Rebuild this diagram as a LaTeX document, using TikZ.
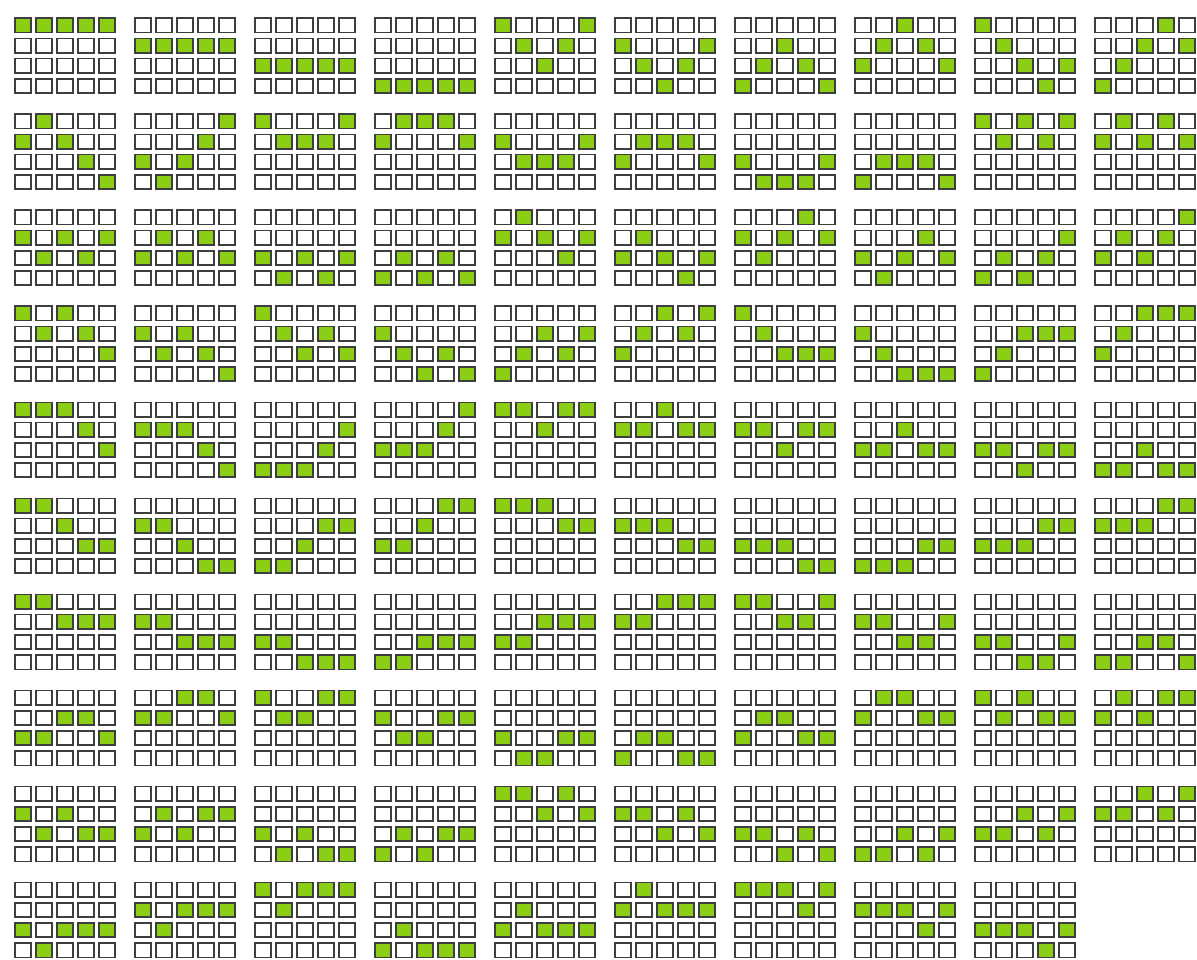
\documentclass[tikz,border=0pt]{standalone}
\definecolor{cellgreen}{RGB}{140,206,22}
\definecolor{celledge}{RGB}{62,62,62}
\newcount\gcellidx
\tikzset{
  celloff/.style={draw=celledge, line width=1.7pt, fill=white},
  cellon/.style={draw=celledge, line width=1.7pt, fill=cellgreen},
}
\def\pbits#1{\ifx#1\relax\else\gcell{#1}\expandafter\pbits\fi}
\def\gcell#1{%
  \pgfmathtruncatemacro\gcr{div(\gcellidx,5)}%
  \pgfmathtruncatemacro\gcc{mod(\gcellidx,5)}%
  \ifnum#1=1 \def\gsty{cellon}\else\def\gsty{celloff}\fi
  \path[\gsty] (21pt*\gcc+0.9pt,-20.2pt*\gcr-0.9pt) rectangle ++(15.8pt,-14.3pt);
  \global\advance\gcellidx by 1\relax}
\newcommand\gridpat[3]{%
  \begin{scope}[shift={(14pt+120pt*#1,-17.3pt-96.04pt*#2)}]
    \global\gcellidx=0\relax
    \expandafter\pbits#3\relax
  \end{scope}}
\begin{document}
\begin{tikzpicture}
\fill[white] (0,0) rectangle (1197pt,-959pt);
\useasboundingbox (0,0) rectangle (1197pt,-959pt);
\foreach \bits [count=\k from 0] in {
 11111 00000 00000 00000, 00000 11111 00000 00000, 00000 00000 11111 00000, 00000 00000 00000 11111, 10001 01010 00100 00000,
 00000 10001 01010 00100, 00000 00100 01010 10001, 00100 01010 10001 00000, 10000 01000 00101 00010, 00010 00101 01000 10000}
 {\gridpat{\k}{0}{\bits}}
\foreach \bits [count=\k from 0] in {
 01000 10100 00010 00001, 00001 00010 10100 01000, 10001 01110 00000 00000, 01110 10001 00000 00000, 00000 10001 01110 00000,
 00000 01110 10001 00000, 00000 00000 10001 01110, 00000 00000 01110 10001, 10101 01010 00000 00000, 01010 10101 00000 00000}
 {\gridpat{\k}{1}{\bits}}
\foreach \bits [count=\k from 0] in {
 00000 10101 01010 00000, 00000 01010 10101 00000, 00000 00000 10101 01010, 00000 00000 01010 10101, 01000 10101 00010 00000,
 00000 01000 10101 00010, 00010 10101 01000 00000, 00000 00010 10101 01000, 00000 00001 01010 10100, 00001 01010 10100 00000}
 {\gridpat{\k}{2}{\bits}}
\foreach \bits [count=\k from 0] in {
 10100 01010 00001 00000, 00000 10100 01010 00001, 10000 01010 00101 00000, 00000 10000 01010 00101, 00000 00101 01010 10000,
 00101 01010 10000 00000, 10000 01000 00111 00000, 00000 10000 01000 00111, 00000 00111 01000 10000, 00111 01000 10000 00000}
 {\gridpat{\k}{3}{\bits}}
\foreach \bits [count=\k from 0] in {
 11100 00010 00001 00000, 00000 11100 00010 00001, 00000 00001 00010 11100, 00001 00010 11100 00000, 11011 00100 00000 00000,
 00100 11011 00000 00000, 00000 11011 00100 00000, 00000 00100 11011 00000, 00000 00000 11011 00100, 00000 00000 00100 11011}
 {\gridpat{\k}{4}{\bits}}
\foreach \bits [count=\k from 0] in {
 11000 00100 00011 00000, 00000 11000 00100 00011, 00000 00011 00100 11000, 00011 00100 11000 00000, 11100 00011 00000 00000,
 00000 11100 00011 00000, 00000 00000 11100 00011, 00000 00000 00011 11100, 00000 00011 11100 00000, 00011 11100 00000 00000}
 {\gridpat{\k}{5}{\bits}}
\foreach \bits [count=\k from 0] in {
 11000 00111 00000 00000, 00000 11000 00111 00000, 00000 00000 11000 00111, 00000 00000 00111 11000, 00000 00111 11000 00000,
 00111 11000 00000 00000, 11001 00110 00000 00000, 00000 11001 00110 00000, 00000 00000 11001 00110, 00000 00000 00110 11001}
 {\gridpat{\k}{6}{\bits}}
\foreach \bits [count=\k from 0] in {
 00000 00110 11001 00000, 00110 11001 00000 00000, 10011 01100 00000 00000, 00000 10011 01100 00000, 00000 00000 10011 01100,
 00000 00000 01100 10011, 00000 01100 10011 00000, 01100 10011 00000 00000, 10100 01011 00000 00000, 01011 10100 00000 00000}
 {\gridpat{\k}{7}{\bits}}
\foreach \bits [count=\k from 0] in {
 00000 10100 01011 00000, 00000 01011 10100 00000, 00000 00000 10100 01011, 00000 00000 01011 10100, 11010 00101 00000 00000,
 00000 11010 00101 00000, 00000 00000 11010 00101, 00000 00000 00101 11010, 00000 00101 11010 00000, 00101 11010 00000 00000}
 {\gridpat{\k}{8}{\bits}}
\foreach \bits [count=\k from 0] in {
 00000 00000 10111 01000, 00000 10111 01000 00000, 10111 01000 00000 00000, 00000 00000 01000 10111, 00000 01000 10111 00000,
 01000 10111 00000 00000, 11101 00010 00000 00000, 00000 11101 00010 00000, 00000 00000 11101 00010}
 {\gridpat{\k}{9}{\bits}}
\end{tikzpicture}
\end{document}
